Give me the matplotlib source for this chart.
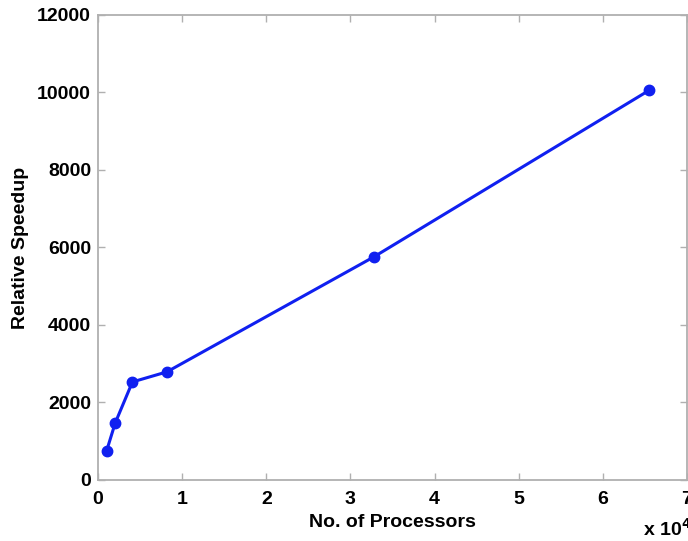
import matplotlib.pyplot as plt
from matplotlib.ticker import FuncFormatter

processors = [1024, 2048, 4096, 8192, 32768, 65536]
speedup = [750, 1470, 2530, 2790, 5755, 10060]

plt.rcParams['font.family'] = ['Liberation Sans', 'DejaVu Sans']
plt.rcParams['font.weight'] = 'bold'

fig = plt.figure(figsize=(6.88, 5.41), dpi=100)
ax = fig.add_axes([0.1424, 0.1128, 0.8561, 0.8595])

ax.plot(processors, speedup, color='#1020f0', linewidth=2.2, marker='o', markersize=7.5)

ax.set_xlim(0, 70000)
ax.set_ylim(0, 12000)
ax.set_xticks(range(0, 70001, 10000))
ax.set_yticks(range(0, 12001, 2000))
ax.xaxis.set_major_formatter(FuncFormatter(lambda v, p: f"{v / 1e4:g}"))

for s in ax.spines.values():
    s.set_color('#b0b0b0')
    s.set_linewidth(1.3)
ax.tick_params(direction='in', length=5, width=1, color='#b0b0b0',
               top=True, right=True, labelsize=14, pad=5)
ax.tick_params(axis='x', pad=8)
for lbl in ax.get_xticklabels() + ax.get_yticklabels():
    lbl.set_fontweight('bold')

ax.set_xlabel("No. of Processors", fontsize=14, fontweight='bold', labelpad=4)
ax.set_ylabel("Relative Speedup", fontsize=14, fontweight='bold', labelpad=6)
fig.text(0.935, 0.022, r"x 10$^{\mathbf{4}}$", fontsize=14, fontweight='bold', ha='left', va='center')

fig.savefig("out.png", dpi=100)
